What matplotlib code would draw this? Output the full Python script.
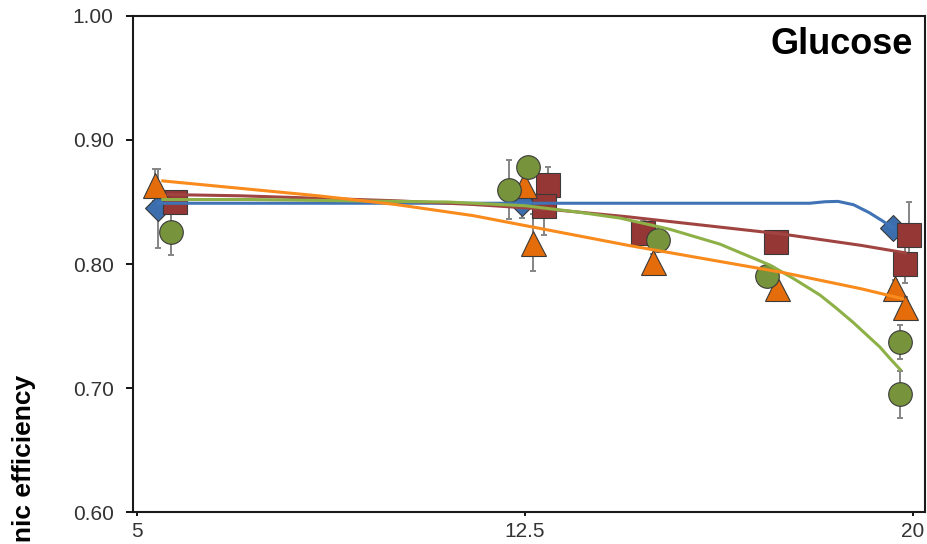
import matplotlib
matplotlib.use('Agg')
import matplotlib.pyplot as plt

plt.rcParams['font.family'] = ['Liberation Sans', 'DejaVu Sans']

# measured means and error bars, per series
blue_x = [5.41, 12.45, 19.62]
blue_y = [0.845, 0.849, 0.829]
blue_err = [0.032, 0.012, 0.005]

red_x = [5.73, 12.95, 12.87, 14.78, 17.35, 19.92, 19.85]
red_y = [0.850, 0.864, 0.847, 0.825, 0.818, 0.823, 0.800]
red_err = [0.008, 0.014, 0.024, 0.010, 0.008, 0.027, 0.015]

orange_x = [5.35, 12.48, 12.65, 14.97, 17.37, 19.65, 19.85]
orange_y = [0.864, 0.864, 0.817, 0.802, 0.781, 0.781, 0.765]
orange_err = [0.013, 0.010, 0.023, 0.006, 0.005, 0.006, 0.008]

green_x = [5.66, 12.19, 12.56, 15.07, 17.18, 19.75, 19.75]
green_y = [0.826, 0.860, 0.878, 0.819, 0.790, 0.737, 0.695]
green_err = [0.019, 0.024, 0.008, 0.006, 0.006, 0.014, 0.019]

# fitted curves
blue_fit_x = [5.41, 8, 10, 12, 14, 16, 17.5, 18.0, 18.3, 18.55, 18.85, 19.15, 19.4, 19.62]
blue_fit_y = [0.849, 0.849, 0.849, 0.849, 0.849, 0.849, 0.849, 0.849, 0.8502, 0.8505, 0.8478, 0.8415, 0.835, 0.829]

red_fit_x = [5.6, 7, 8.5, 10, 11.5, 13, 14.5, 16, 17.5, 19, 19.85]
red_fit_y = [0.856, 0.855, 0.853, 0.851, 0.848, 0.844, 0.838, 0.831, 0.824, 0.815, 0.809]

orange_fit_x = [5.5, 7, 8.5, 10, 11.5, 13, 14.5, 16, 17.5, 19, 19.8]
orange_fit_y = [0.867, 0.861, 0.855, 0.848, 0.839, 0.827, 0.815, 0.804, 0.793, 0.780, 0.772]

green_fit_x = [5.5, 7.2, 9, 11, 12.5, 13.5, 14.34, 15.3, 16.27, 17.24, 17.7, 18.2, 18.5, 18.84, 19.1, 19.36, 19.55, 19.75]
green_fit_y = [0.852, 0.852, 0.851, 0.850, 0.847, 0.842, 0.837, 0.828, 0.816, 0.799, 0.788, 0.775, 0.765, 0.753, 0.743, 0.733, 0.724, 0.715]

x_ticks = [5, 12.5, 20]
x_labels = ['5', '12.5', '20']
y_ticks = [0.60, 0.70, 0.80, 0.90, 1.00]

fig = plt.figure(figsize=(9.28, 5.44), dpi=100)
ax = fig.add_axes([0.1433, 0.0588, 0.8535, 0.9118])

series = [
    (blue_x, blue_y, blue_err, 'D', 13, '#3C6EAD'),
    (red_x, red_y, red_err, 's', 17, '#953735'),
    (orange_x, orange_y, orange_err, '^', 18, '#E46C0A'),
    (green_x, green_y, green_err, 'o', 17, '#77933C'),
]
for i, (x, y, e, m, ms, c) in enumerate(series):
    ax.errorbar(x, y, yerr=e, fmt='none', ecolor='#858585', elinewidth=1.4,
                capsize=2.5, capthick=1.4, zorder=2)
    ax.plot(x, y, ls='none', marker=m, ms=ms, mfc=c, mec='#3A3A3A', mew=0.8,
            zorder=3 + i * 0.1)

ax.plot(blue_fit_x, blue_fit_y, color='#3F73B5', lw=2.2, zorder=5)
ax.plot(red_fit_x, red_fit_y, color='#A04442', lw=2.2, zorder=5)
ax.plot(green_fit_x, green_fit_y, color='#8DB047', lw=2.2, zorder=5)
ax.plot(orange_fit_x, orange_fit_y, color='#F98A1C', lw=2.2, zorder=5)

ax.set_xlim(4.923, 20.232)
ax.set_ylim(0.60, 1.00)
ax.set_xticks(x_ticks)
ax.set_xticklabels(x_labels)
ax.set_yticks(y_ticks)
ax.set_yticklabels(['%.2f' % v for v in y_ticks])
ax.tick_params(axis='x', direction='out', length=3, width=1.3, labelsize=15,
               labelcolor='#333333', pad=4)
ax.tick_params(axis='y', direction='out', length=5, width=1.3, labelsize=15,
               labelcolor='#333333', pad=9)
for s in ax.spines.values():
    s.set_linewidth(1.5)
    s.set_color('#1A1A1A')

fig.text(913 / 928, 1 - 44 / 544, 'Glucose', ha='right', va='center',
         fontsize=26, fontweight='bold')
fig.text(24 / 928, 1 - 375 / 544, 'Photonic efficiency', rotation=90,
         ha='center', va='top', fontsize=19, fontweight='bold')

fig.savefig('out.png', dpi=100)
